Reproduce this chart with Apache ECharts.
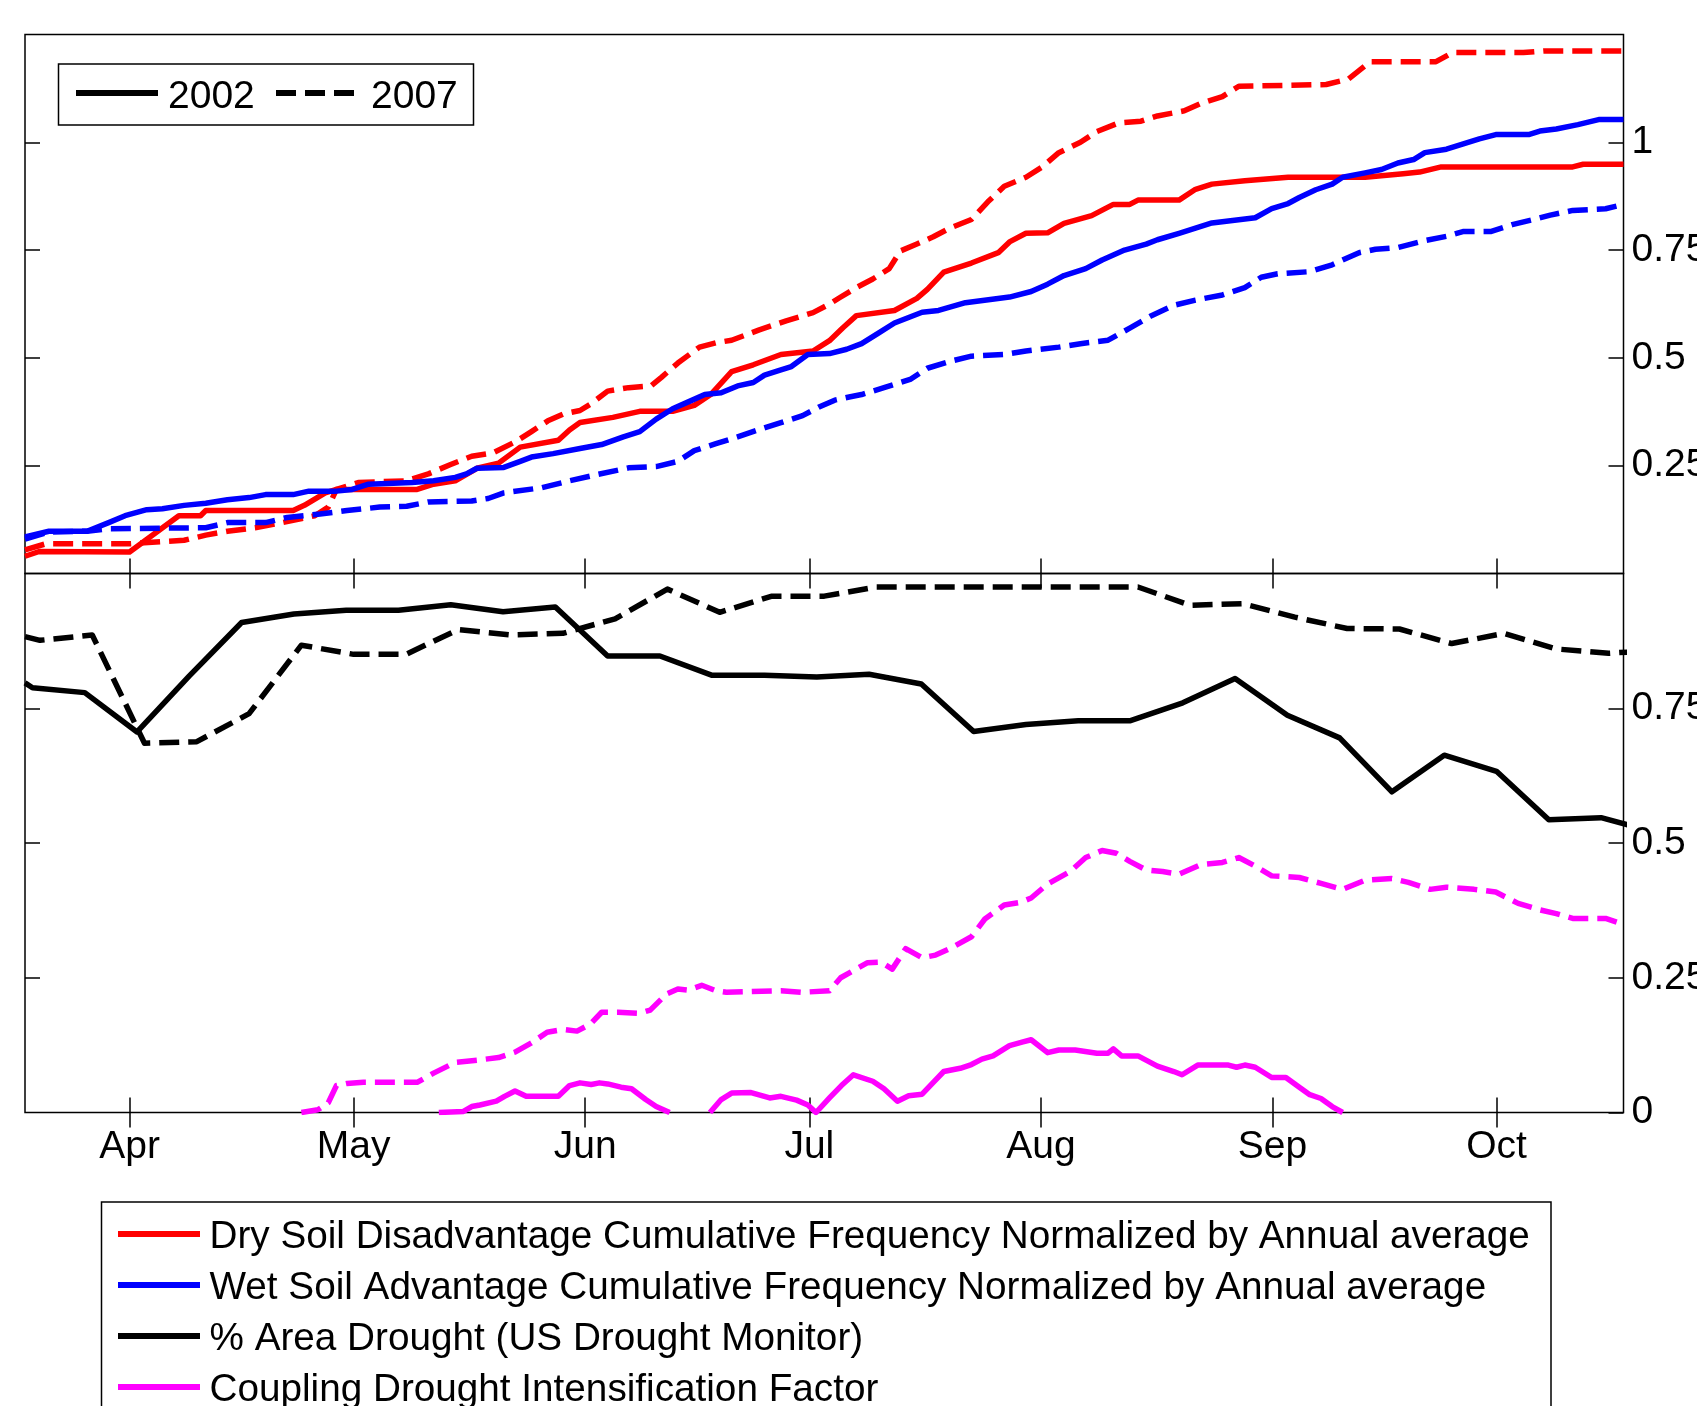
<!DOCTYPE html>
<html>
<head>
<meta charset="utf-8">
<script src="https://cdn.jsdelivr.net/npm/echarts@6/dist/echarts.min.js"></script>
<style>
  html, body { margin: 0; padding: 0; background: #fff; }
  #chart { width: 1697px; height: 1406px; }
</style>
</head>
<body>
<div id="chart"></div>
<script>
// x positions are day of year; month ticks fall on the 1st of each month
const dayRange = [77, 291];
const monthTicks = [91, 121, 152, 182, 213, 244, 274];
const monthNames = ['Apr', 'May', 'Jun', 'Jul', 'Aug', 'Sep', 'Oct'];
const topTicks = [0.25, 0.5, 0.75, 1];
const bottomTicks = [0, 0.25, 0.5, 0.75];
const bottomLeftTicks = [0.25, 0.5, 0.75];

// Dry soil disadvantage, cumulative frequency / annual average
const dry2002 = [[77,0.040],[78.9,0.051],[91,0.050],[97.6,0.134],[100.5,0.134],[101.2,0.146],[112.9,0.146],[114.4,0.158],[117.2,0.187],[118.7,0.195],[129.5,0.195],[131.7,0.207],[134.6,0.215],[137.5,0.244],[140.4,0.256],[143.3,0.293],[148.4,0.309],[149.9,0.333],[151.3,0.350],[155.7,0.362],[159.3,0.376],[163.7,0.376],[166.6,0.390],[168.8,0.415],[171.6,0.468],[174.5,0.484],[178.2,0.508],[182.5,0.516],[184.7,0.540],[186.5,0.570],[188.3,0.598],[193.4,0.610],[196.4,0.638],[197.8,0.659],[200,0.699],[203.7,0.720],[207.3,0.744],[208.8,0.769],[211,0.789],[213.9,0.790],[216.1,0.812],[219.8,0.830],[222.7,0.856],[224.9,0.856],[226,0.866],[231.5,0.866],[233.7,0.891],[235.9,0.903],[240.3,0.911],[246.1,0.919],[256.4,0.919],[261.5,0.927],[263.7,0.931],[266.6,0.943],[284.2,0.943],[285.6,0.949],[291,0.949]];
const dry2007 = [[77,0.055],[79.8,0.069],[91.1,0.069],[98.3,0.077],[101.2,0.089],[104.1,0.098],[107.8,0.106],[111.4,0.118],[115.8,0.134],[117.6,0.154],[118.7,0.195],[121.6,0.211],[128.1,0.215],[131,0.231],[133.9,0.252],[136.8,0.272],[139.7,0.280],[142.6,0.305],[144.8,0.329],[147,0.354],[149.1,0.370],[151.3,0.378],[152.8,0.394],[155,0.423],[157.8,0.431],[160.8,0.435],[162.2,0.455],[164.4,0.488],[167.3,0.525],[169.5,0.535],[171.6,0.541],[175.3,0.565],[178.9,0.586],[182.5,0.605],[184.7,0.625],[186.1,0.640],[188.3,0.663],[190.5,0.683],[192.7,0.707],[194.2,0.748],[196.4,0.764],[198.6,0.781],[200.8,0.801],[203.7,0.821],[205.9,0.862],[208.1,0.898],[211,0.919],[213.2,0.943],[215.4,0.976],[218.3,1.0],[220.5,1.025],[223.4,1.045],[226.4,1.049],[228.6,1.061],[232.2,1.073],[234.4,1.090],[237.3,1.106],[239.5,1.130],[246.1,1.132],[251.2,1.134],[254.2,1.147],[257.1,1.187],[265.9,1.187],[268.1,1.208],[277.6,1.208],[280.5,1.212],[291,1.212]];

// Wet soil advantage, cumulative frequency / annual average
const wet2002 = [[77,0.085],[80.2,0.098],[85.3,0.098],[88.2,0.118],[90.4,0.134],[93.3,0.148],[95.4,0.150],[98.3,0.158],[101.2,0.163],[104.1,0.171],[107,0.176],[109.2,0.183],[112.9,0.183],[115,0.191],[118.7,0.191],[120.8,0.195],[123,0.207],[128.8,0.211],[131.7,0.215],[134.6,0.223],[136.1,0.231],[137.5,0.244],[141.1,0.246],[143.3,0.260],[144.8,0.270],[147.7,0.278],[151.3,0.290],[154.2,0.299],[157.1,0.317],[159.3,0.329],[161.5,0.358],[163.7,0.382],[165.8,0.398],[168,0.415],[170.2,0.419],[172.4,0.435],[174.5,0.443],[176,0.460],[178.2,0.472],[179.6,0.480],[181.8,0.508],[184.7,0.510],[187,0.520],[189,0.533],[191.2,0.557],[193.4,0.581],[197.1,0.606],[199.3,0.610],[202.9,0.628],[208.8,0.641],[211.7,0.654],[213.9,0.671],[216.1,0.691],[219,0.707],[221.2,0.727],[224.2,0.750],[227.1,0.764],[228.6,0.774],[231.5,0.789],[235.9,0.813],[241.7,0.825],[243.9,0.846],[246.1,0.858],[247.6,0.872],[249.8,0.890],[252,0.903],[253.4,0.919],[256.4,0.929],[258.6,0.937],[260.8,0.952],[262.9,0.960],[264.4,0.976],[267.3,0.984],[271.7,1.008],[273.9,1.018],[278.3,1.018],[279.8,1.026],[282,1.031],[284.9,1.041],[287.8,1.053],[291,1.053]];
const wet2007 = [[77,0.080],[80.2,0.096],[85.3,0.098],[88.2,0.104],[101.2,0.106],[104.1,0.118],[109.2,0.118],[112.1,0.130],[116.5,0.138],[120.1,0.146],[124.5,0.154],[128.1,0.156],[131,0.166],[136.8,0.168],[139,0.174],[141.1,0.187],[146.2,0.199],[149.9,0.215],[153.5,0.229],[157.8,0.245],[161.5,0.248],[164.4,0.260],[166.6,0.285],[169.5,0.301],[172.4,0.317],[175.3,0.334],[178.2,0.350],[181.1,0.366],[183.3,0.386],[185.4,0.402],[187.5,0.410],[189,0.415],[192,0.431],[195.6,0.451],[197.8,0.476],[200.8,0.492],[203.7,0.504],[208.1,0.508],[211,0.516],[215.4,0.525],[218.3,0.533],[222,0.541],[224.9,0.569],[227.8,0.598],[230.8,0.622],[233.7,0.634],[237.3,0.646],[240.3,0.663],[242.5,0.687],[244.7,0.695],[249,0.700],[252,0.716],[255.6,0.744],[257.8,0.752],[260.8,0.756],[264.4,0.772],[267.3,0.782],[269.5,0.793],[273.2,0.793],[276.1,0.809],[279,0.821],[281.2,0.831],[284.2,0.842],[288.6,0.846],[291,0.856]];

// % area in drought (US Drought Monitor, weekly)
const area2002 = [[77,0.797],[78,0.788],[85,0.779],[92,0.706],[99,0.810],[106,0.909],[113,0.925],[120,0.932],[127,0.932],[134,0.942],[141,0.929],[148,0.938],[155,0.847],[162,0.847],[169,0.811],[176,0.811],[183,0.808],[190,0.813],[197,0.795],[204,0.707],[211,0.720],[218,0.727],[225,0.727],[232,0.760],[239,0.805],[246,0.737],[253,0.695],[260,0.595],[267,0.663],[274,0.633],[281,0.543],[288,0.547],[295,0.521]];
const area2007 = [[77,0.883],[79,0.876],[86,0.886],[93,0.685],[100,0.688],[107,0.740],[114,0.867],[121,0.850],[128,0.850],[135,0.896],[142,0.886],[149,0.889],[156,0.916],[163,0.971],[170,0.928],[177,0.958],[184,0.958],[191,0.975],[198,0.975],[205,0.975],[212,0.975],[219,0.975],[226,0.975],[233,0.941],[240,0.944],[247,0.919],[254,0.898],[261,0.897],[268,0.870],[275,0.889],[282,0.860],[289,0.852],[296,0.858]];

// Coupling drought intensification factor
const coupling2002 = [[132.4,0],[135.7,0.002],[136.8,0.011],[137.9,0.014],[140.1,0.021],[141.2,0.030],[142.6,0.040],[144.1,0.030],[148.4,0.030],[149.9,0.050],[151.3,0.055],[152.8,0.052],[153.9,0.055],[155,0.053],[156.8,0.047],[158.2,0.044],[160.1,0.024],[161.5,0.011],[163.3,0],[166,null],[168.7,0],[170.2,0.024],[171.6,0.036],[174.2,0.037],[176.7,0.027],[178.2,0.030],[180.3,0.023],[181.8,0.014],[182.9,0],[184.7,0.027],[186.3,0.050],[187.9,0.070],[190.5,0.058],[192,0.044],[193.8,0.021],[195.3,0.031],[197.1,0.034],[198.6,0.056],[200,0.076],[202.2,0.082],[203.7,0.089],[205.1,0.099],[206.6,0.105],[208.8,0.124],[210.6,0.131],[211.7,0.135],[213.9,0.111],[215.4,0.116],[217.6,0.116],[220.5,0.110],[222,0.110],[222.7,0.118],[223.8,0.105],[226,0.105],[228.6,0.086],[230.8,0.076],[231.9,0.070],[234,0.088],[238.1,0.088],[239.2,0.084],[240.3,0.088],[241.7,0.084],[243.9,0.065],[245.8,0.065],[247.6,0.047],[249,0.033],[250.5,0.026],[252,0.011],[253.4,0]];
const coupling2007 = [[114,0],[116.2,0.005],[117.6,0.018],[118.7,0.050],[120.1,0.054],[122.3,0.056],[129.5,0.056],[131.7,0.073],[134.6,0.093],[137.5,0.097],[140.4,0.102],[142.6,0.112],[144.8,0.129],[146.9,0.149],[149.1,0.154],[150.9,0.151],[152.7,0.164],[154.2,0.186],[156.4,0.186],[159.3,0.184],[160.7,0.190],[162.9,0.220],[164.4,0.229],[165.8,0.227],[167.6,0.236],[169.5,0.226],[170.9,0.223],[178.2,0.226],[181.1,0.223],[184.7,0.226],[186.2,0.250],[187.6,0.261],[189.8,0.278],[191.6,0.279],[193.1,0.266],[194.9,0.304],[197.1,0.287],[198.9,0.292],[200.8,0.304],[203.7,0.326],[205.5,0.359],[208.1,0.385],[210.3,0.390],[211.7,0.398],[213.9,0.424],[216.9,0.447],[219,0.473],[221.2,0.486],[223.1,0.481],[224.9,0.466],[227.1,0.450],[229.3,0.447],[231.5,0.442],[234.4,0.460],[237.3,0.464],[239.5,0.473],[241.7,0.457],[243.9,0.439],[247.6,0.436],[250.5,0.425],[253.4,0.414],[256.4,0.431],[260,0.434],[262.2,0.427],[265.1,0.414],[267.3,0.418],[271,0.414],[273.9,0.409],[276.9,0.388],[279.8,0.376],[282,0.369],[284.2,0.360],[288.6,0.360],[291,0.349]];

const legendYears = ['2002', '2007'];
const legendNames = [
  'Dry Soil Disadvantage Cumulative Frequency Normalized by Annual average',
  'Wet Soil Advantage Cumulative Frequency Normalized by Annual average',
  '% Area Drought (US Drought Monitor)',
  'Coupling Drought Intensification Factor'
];

const RED = '#ff0000', BLUE = '#0000ff', BLACK = '#000000', MAGENTA = '#ff00ff';
const legendColors = [RED, BLUE, BLACK, MAGENTA];
const FONT = '"Liberation Sans", Arial, Helvetica, sans-serif';
const FS = 39;
const LW = 5.5;
const DASH = [20, 9];

const chart = echarts.init(document.getElementById('chart'), null, { renderer: 'canvas' });

const G = { left: 25, width: 1598.5, h: 539, top1: 34.5, top2: 573.5 };

function xAxisFor(grid, pos, labels) {
  return {
    type: 'value', gridIndex: grid, position: pos,
    min: dayRange[0], max: dayRange[1],
    axisLine: { show: false },
    splitLine: { show: false },
    axisTick: { show: true, inside: true, length: 15, customValues: monthTicks,
      lineStyle: { color: '#000', width: 1.5 } },
    axisLabel: { show: labels, customValues: monthTicks, margin: 15,
      color: '#000', fontFamily: FONT, fontSize: FS,
      formatter: v => { const i = monthTicks.indexOf(v); return i >= 0 ? monthNames[i] : ''; } }
  };
}
function yAxisFor(grid, pos, max, ticks, labelTicks) {
  return {
    type: 'value', gridIndex: grid, position: pos, min: 0, max: max,
    axisLine: { show: false },
    splitLine: { show: false },
    axisTick: { show: true, inside: true, length: 15, customValues: ticks,
      lineStyle: { color: '#000', width: 1.5 } },
    axisLabel: { show: !!labelTicks, customValues: labelTicks || ticks, margin: 8,
      color: '#000', fontFamily: FONT, fontSize: FS }
  };
}
function line(data, color, dashed, xi, yi) {
  return {
    type: 'line', data: data, xAxisIndex: xi, yAxisIndex: yi,
    symbol: 'none', clip: true, connectNulls: false, silent: true,
    lineStyle: { color: color, width: LW, type: dashed ? DASH : 'solid', cap: 'butt', join: 'round' },
    z: 3
  };
}

// legend graphics
const graphics = [];
graphics.push({ type: 'rect', shape: { x: 58.5, y: 64, width: 415, height: 61 },
  style: { fill: '#fff', stroke: '#000', lineWidth: 1.5 }, z: 10 });
graphics.push({ type: 'line', shape: { x1: 76, y1: 93, x2: 158, y2: 93 },
  style: { stroke: BLACK, lineWidth: 6 }, z: 11 });
graphics.push({ type: 'text', x: 168, y: 97,
  style: { text: legendYears[0], font: FS + 'px ' + FONT, fill: '#000', textVerticalAlign: 'middle', verticalAlign: 'middle' }, z: 11 });
graphics.push({ type: 'line', shape: { x1: 276, y1: 93, x2: 358, y2: 93 },
  style: { stroke: BLACK, lineWidth: 6, lineDash: DASH }, z: 11 });
graphics.push({ type: 'text', x: 371, y: 97,
  style: { text: legendYears[1], font: FS + 'px ' + FONT, fill: '#000', textVerticalAlign: 'middle', verticalAlign: 'middle' }, z: 11 });

graphics.push({ type: 'rect', shape: { x: 101.5, y: 1202, width: 1449.5, height: 260 },
  style: { fill: '#fff', stroke: '#000', lineWidth: 1.5 }, z: 10 });
legendNames.forEach((name, i) => {
  const y = 1234 + 51 * i;
  graphics.push({ type: 'line', shape: { x1: 118, y1: y, x2: 200, y2: y },
    style: { stroke: legendColors[i], lineWidth: 6 }, z: 11 });
  graphics.push({ type: 'text', x: 209.5, y: y + 3,
    style: { text: name, font: '38.7px ' + FONT, fill: '#000', textVerticalAlign: 'middle', verticalAlign: 'middle' }, z: 11 });
});

chart.setOption({
  animation: false,
  backgroundColor: '#fff',
  textStyle: { fontFamily: FONT },
  grid: [
    { left: G.left, top: G.top1, width: G.width, height: G.h, show: true,
      containLabel: false, outerBoundsMode: 'none',
      borderColor: '#000', borderWidth: 1.5, backgroundColor: 'transparent' },
    { left: G.left, top: G.top2, width: G.width, height: G.h, show: true,
      containLabel: false, outerBoundsMode: 'none',
      borderColor: '#000', borderWidth: 1.5, backgroundColor: 'transparent' }
  ],
  xAxis: [
    xAxisFor(0, 'bottom', false),
    xAxisFor(0, 'top', false),
    xAxisFor(1, 'bottom', true),
    xAxisFor(1, 'top', false)
  ],
  yAxis: [
    yAxisFor(0, 'right', 1.25, topTicks, topTicks),
    yAxisFor(0, 'left', 1.25, topTicks, null),
    yAxisFor(1, 'right', 1, bottomTicks, bottomTicks),
    yAxisFor(1, 'left', 1, bottomLeftTicks, null)
  ],
  series: [
    line(dry2002, RED, false, 0, 0),
    line(dry2007, RED, true, 0, 0),
    line(wet2002, BLUE, false, 0, 0),
    line(wet2007, BLUE, true, 0, 0),
    line(area2002, BLACK, false, 2, 2),
    line(area2007, BLACK, true, 2, 2),
    line(coupling2002, MAGENTA, false, 2, 2),
    line(coupling2007, MAGENTA, true, 2, 2)
  ],
  graphic: graphics
});
</script>
</body>
</html>
